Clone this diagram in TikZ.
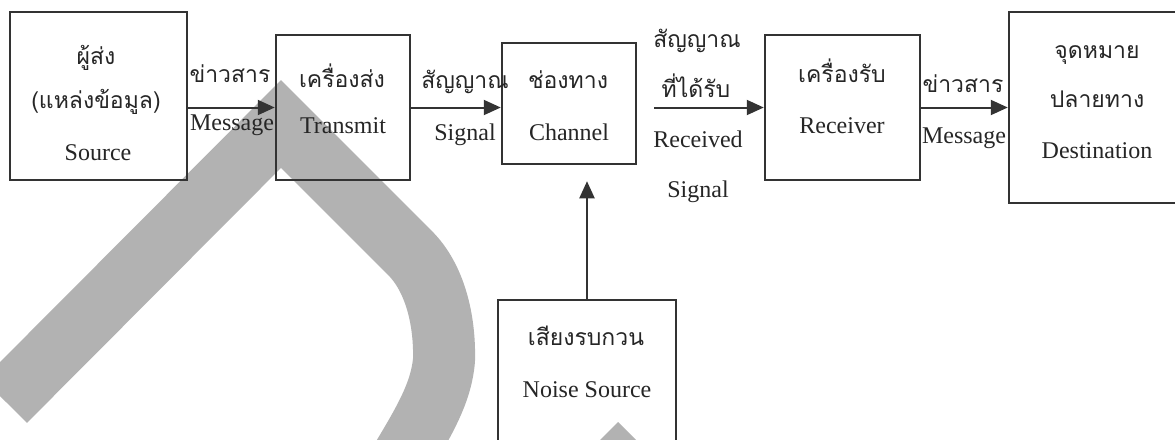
\documentclass[tikz,border=0pt]{standalone}
\usepackage{fontspec}
\setmainfont{Liberation Serif}
\newfontfamily\thaifont[Script=Thai]{Loma}
\usetikzlibrary{arrows.meta}
\tikzset{
  box/.style={shape=rectangle, draw=black!80, line width=2.5pt, inner sep=0pt},
  arr/.style={draw=black!80, line width=2pt, -{Triangle[length=17pt,width=15pt]}},
  th/.style={anchor=base, inner sep=0pt, text=black!85, font=\thaifont\fontsize{23}{28}\selectfont},
  en/.style={anchor=base, inner sep=0pt, text=black!85, font=\fontsize{24}{28}\selectfont},
  wm/.style={draw=black!30, line width=62pt, line join=miter}}

\begin{document}
\begin{tikzpicture}[x=1pt,y=-1pt]
\path[use as bounding box, fill=white] (0,0) rectangle (1175,439);
\begin{scope}
\clip (0,0) rectangle (1175,439);

\draw[wm] (5,401) -- (281,124) -- (410,253) .. controls (435,278) and (445,320) .. (444,360) .. controls (441,395) and (422,425) .. (395,470);
\fill[black!30] (618,422) -- (650,454) -- (586,454) -- cycle;

\node[box, minimum width=177pt, minimum height=168pt] (S) at (98.5,96) {};
\node[box, minimum width=134pt, minimum height=145pt] (T) at (343,107.5) {};
\node[box, minimum width=134pt, minimum height=121pt] (C) at (569,103.5) {};
\node[box, minimum width=155pt, minimum height=145pt] (R) at (842.5,107.5) {};
\node[box, minimum width=176pt, minimum height=191pt] (D) at (1097,107.5) {};
\node[box, minimum width=178pt, minimum height=170pt] (N) at (587,385) {};

\draw[arr] (S.east |- T.west) -- (T.west);
\draw[arr] (T.east) -- (C.west |- T.east);
\draw[arr] ([xshift=17pt]C.east |- R.west) -- (R.west);
\draw[arr] (R.east) -- (D.west |- R.east);
\draw[arr] (N.north) -- ([yshift=-16pt]C.south -| N.north);

\node[th] (S1) at (96,64) {ผู้ส่ง};
\node[th] (S2) at (96,108) {(แหล่งข้อมูล)};
\node[en] (S3) at (98,160) {Source};

\node[th] (m1) at (230,82) {ข่าวสาร};
\node[en] (m1e) at (232,130) {Message};

\node[th] (T1) at (342,87) {เครื่องส่ง};
\node[en] (T2) at (343,133) {Transmit};

\node[th] (s1) at (465,88) {สัญญาณ};
\node[en] (s1e) at (465,140) {Signal};

\node[th] (C1) at (568,88) {ช่องทาง};
\node[en] (C2) at (569,140) {Channel};

\node[th] (r1) at (697,47) {สัญญาณ};
\node[th] (r2) at (696,97) {ที่ได้รับ};
\node[en] (r3) at (698,147) {Received};
\node[en] (r4) at (698,197) {Signal};

\node[th] (R1) at (842,82) {เครื่องรับ};
\node[en] (R2) at (842,133) {Receiver};

\node[th] (m2) at (963,92) {ข่าวสาร};
\node[en] (m2e) at (964,143) {Message};

\node[th] (D1) at (1097,58) {จุดหมาย};
\node[th] (D2) at (1097,107) {ปลายทาง};
\node[en] (D3) at (1097,158) {Destination};

\node[th] (N1) at (586,345) {เสียงรบกวน};
\node[en] (N2) at (587,397) {Noise Source};
\end{scope}
\end{tikzpicture}
\end{document}
